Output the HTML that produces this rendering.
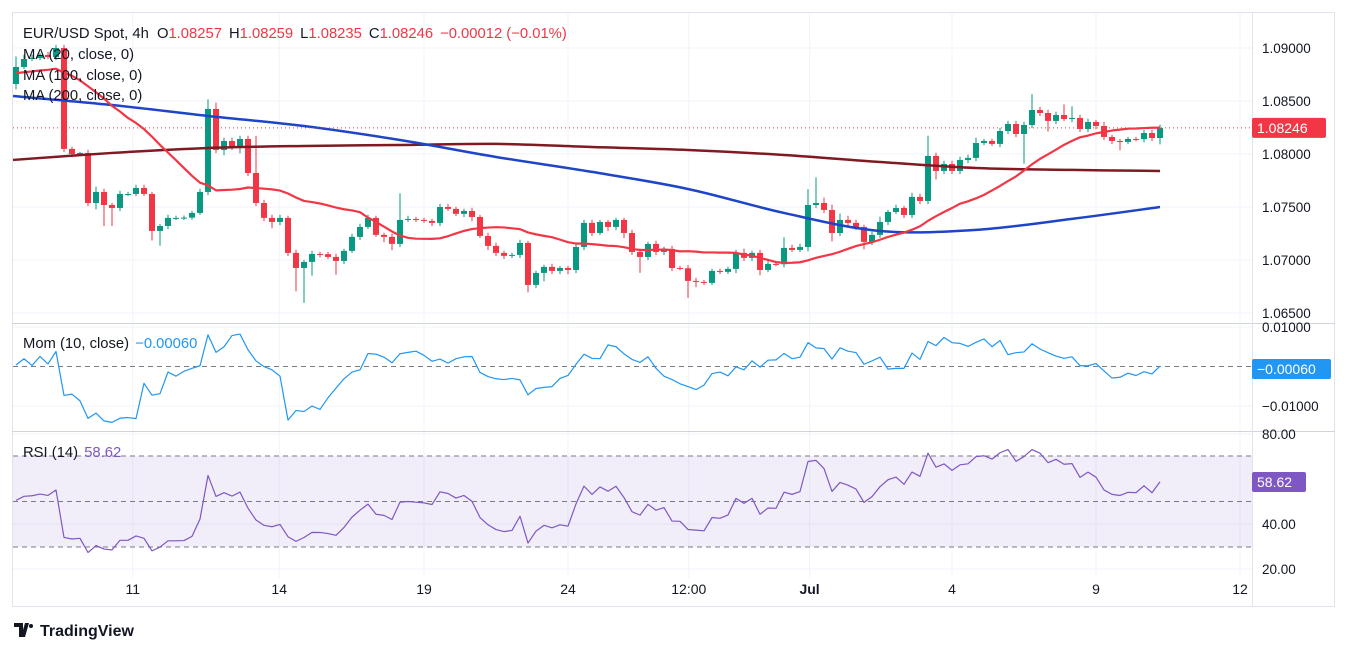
<!DOCTYPE html>
<html><head><meta charset="utf-8"><style>
body{margin:0;background:#fff;width:1347px;height:651px;overflow:hidden;font-family:"Liberation Sans",sans-serif}
svg{position:absolute;left:0;top:0}
text{font-family:"Liberation Sans",sans-serif}
</style></head><body>
<svg id="chart" width="1347" height="651">
<rect x="12.5" y="12.5" width="1322" height="594" fill="#fff" stroke="#e0e3eb"/>
<g id="grid"></g>
<rect x="13" y="456" width="1239" height="91" fill="#7e57c2" fill-opacity="0.1"/>
<line x1="13" x2="1252" y1="456" y2="456" stroke="#787b86" stroke-dasharray="5,4"/>
<line x1="13" x2="1252" y1="501.5" y2="501.5" stroke="#787b86" stroke-dasharray="5,4"/>
<line x1="13" x2="1252" y1="547" y2="547" stroke="#787b86" stroke-dasharray="5,4"/>
<line x1="13" x2="1252" y1="366.5" y2="366.5" stroke="#787b86" stroke-dasharray="5,4"/>
<line x1="12" x2="1335" y1="323.5" y2="323.5" stroke="#d1d4dc"/>
<line x1="12" x2="1335" y1="431.5" y2="431.5" stroke="#d1d4dc"/>
<line x1="1252.5" x2="1252.5" y1="13" y2="606" stroke="#e0e3eb"/>
<g id="plot"></g>
<g id="axes"></g>
<text x="23" y="38" font-size="14.8" fill="#131722">EUR/USD Spot, 4h <tspan dx="4">O</tspan><tspan fill="#f23645">1.08257</tspan><tspan dx="7">H</tspan><tspan fill="#f23645">1.08259</tspan><tspan dx="7">L</tspan><tspan fill="#f23645">1.08235</tspan><tspan dx="7">C</tspan><tspan fill="#f23645">1.08246</tspan><tspan dx="7" fill="#f23645">−0.00012 (−0.01%)</tspan></text>
<text x="23" y="59" font-size="14.8" fill="#131722">MA (20, close, 0)</text>
<text x="23" y="80" font-size="14.8" fill="#131722">MA (100, close, 0)</text>
<text x="23" y="100" font-size="14.8" fill="#131722">MA (200, close, 0)</text>
<text x="23" y="348" font-size="14.8" fill="#131722">Mom (10, close) <tspan dx="2" fill="#2196f3">−0.00060</tspan></text>
<text x="23" y="457" font-size="14.8" fill="#131722">RSI (14) <tspan dx="2" fill="#7e57c2">58.62</tspan></text>
<g>
<path d="M14 623h9v14h-4v-10h-5z M25 623h4l-4 14h-4z" fill="#131722"/>
<circle cx="31" cy="626" r="2" fill="#131722"/>
<text x="40" y="636" font-size="16" font-weight="bold" fill="#131722">TradingView</text>
</g>
</svg>
<script>
const priorCloses=[1.0880,1.0860,1.0885,1.0865,1.0878,1.0870,1.0888,1.0868,1.0885,1.0862,1.0878,1.0870,1.0888,1.0885];
const firstOpen=1.0866;
const closes=[1.08821,1.08896,1.08906,1.08934,1.08915,1.09000,1.08048,1.08000,1.08010,1.07538,
1.07642,1.07519,1.07491,1.07623,1.07623,1.07680,1.07623,1.07274,1.07321,1.07397,
1.07397,1.07400,1.07444,1.07642,1.08425,1.08038,1.08123,1.08057,1.08142,1.07821,
1.07538,1.07397,1.07359,1.07397,1.07067,1.06925,1.06982,1.07057,1.07055,1.07029,
1.06991,1.07086,1.07218,1.07312,1.07397,1.07237,1.07218,1.07152,1.07378,1.07387,
1.07378,1.07369,1.07350,1.07500,1.07482,1.07435,1.07463,1.07406,1.07227,1.07133,
1.07067,1.07039,1.07048,1.07161,1.06765,1.06878,1.06935,1.06897,1.06925,1.06906,
1.07123,1.07350,1.07255,1.07359,1.07312,1.07378,1.07255,1.07076,1.07029,1.07152,
1.07076,1.07105,1.06925,1.06922,1.06803,1.06793,1.06784,1.06897,1.06888,1.06916,
1.07067,1.07020,1.07067,1.06906,1.06963,1.06960,1.07114,1.07095,1.07123,1.07519,
1.07538,1.07472,1.07255,1.07378,1.07350,1.07312,1.07171,1.07237,1.07359,1.07453,
1.07491,1.07425,1.07595,1.07557,1.07982,1.07840,1.07906,1.07840,1.07944,1.07963,
1.08104,1.08123,1.08095,1.08217,1.08283,1.08189,1.08274,1.08415,1.08387,1.08312,
1.08368,1.08330,1.08340,1.08236,1.08302,1.08264,1.08161,1.08123,1.08114,1.08142,
1.08140,1.08198,1.08151,1.08246];
const upWickPips=[10,4,3,2,3,3,3,2,1,3, 5,3,2,3,2,3,3,2,2,3, 2,2,2,3,9,6,3,3,3,3, 35,3,3,3,2,3,2,3,2,2, 3,2,3,3,3,2,2,3,25,3, 2,2,2,3,3,2,2,3,2,3, 3,2,2,3,2,2,2,3,2,2, 3,3,3,2,2,2,2,3,3,2, 3,2,3,2,3,3,2,2,2,2, 3,4,2,3,3,2,10,3,3,15, 24,5,5,6,4,3,2,3,5,2, 3,2,4,3,19,3,3,3,3,3, 5,2,2,3,3,3,3,15,3,3, 3,10,11,3,3,2,4,2,2,2, 2,3,3,3];
const downWickPips=[5,2,2,2,2,3,3,3,2,3, 6,20,17,3,2,2,2,9,14,3, 2,2,2,2,3,3,5,2,5,3, 3,3,6,3,3,22,33,13,3,2, 13,3,2,3,2,2,5,6,3,2, 2,2,3,3,2,2,3,4,2,4, 3,3,2,3,7,3,8,3,3,4, 3,3,3,2,4,3,5,3,15,3, 3,3,3,2,16,5,2,2,2,2, 4,3,3,5,2,2,3,2,2,4, 3,3,8,3,3,3,7,3,3,3, 2,3,3,3,3,8,3,3,3,3, 3,2,2,3,3,3,28,3,3,10, 3,2,3,3,3,3,3,3,8,2, 2,3,3,6];
const maSampleIdx=[0,12,24,36,48,60,72,84,96,108,120,132,143];
const ma100Samples=[1.08547,1.08462,1.08359,1.08264,1.08132,1.07972,1.07831,1.07670,1.07444,1.07274,1.07284,1.07388,1.07500];
const ma200Samples=[1.07944,1.08010,1.08057,1.08076,1.08085,1.08095,1.08066,1.08038,1.07991,1.07925,1.07868,1.07850,1.07840];
const priceTicks=[1.09,1.085,1.08,1.075,1.07,1.065];
const momTicks=[0.01,-0.01];
const rsiTicks=[80,40,20];
const timeLabels=["11","14","19","24","12:00","Jul","4","9","12"];
const timeLabelIdx=[14.6,32.9,51,69,84.1,99.2,117,135,153];
const lastPriceLabel="1.08246", lastMomLabel="−0.00060", lastRsiLabel="58.62";

const NS="http://www.w3.org/2000/svg";
const X=i=>16+8*i;
const PY=p=>48+(1.09-p)*10600;
const MY=m=>366.5-m*3950;
const RY=r=>434+(80-r)*2.25;
function mk(tag,attrs,parent){const e=document.createElementNS(NS,tag);for(const k in attrs)e.setAttribute(k,attrs[k]);parent.appendChild(e);return e;}
const plot=document.getElementById('plot'),grid=document.getElementById('grid'),axes=document.getElementById('axes');

priceTicks.forEach(v=>{const l=mk('line',{x1:13,x2:1252,y1:PY(v),y2:PY(v),stroke:'#f0f3fa'},grid);

});
momTicks.forEach(v=>{const l=mk('line',{x1:13,x2:1252,y1:MY(v),y2:MY(v),stroke:'#f0f3fa'},grid);

});
rsiTicks.forEach(v=>{const l=mk('line',{x1:13,x2:1252,y1:RY(v),y2:RY(v),stroke:'#f0f3fa'},grid);

});
timeLabelIdx.forEach((ix,k)=>{const l=mk('line',{x1:X(ix),x2:X(ix),y1:13,y2:578,stroke:'#f0f3fa'},grid);


const t=mk('text',{x:X(ix),y:594,'font-size':14,'text-anchor':'middle',fill:'#131722','font-weight':timeLabels[k]==='Jul'?'bold':'normal'},axes);
t.textContent=timeLabels[k];

});

priceTicks.forEach(v=>{const t=mk('text',{x:1262,y:PY(v)+5,'font-size':13.5,fill:'#131722'},axes);t.textContent=v.toFixed(5);

});
momTicks.forEach(v=>{const t=mk('text',{x:1262,y:MY(v)+5,'font-size':13.5,fill:'#131722'},axes);t.textContent=(v<0?'−':'')+Math.abs(v).toFixed(5);

});
rsiTicks.forEach(v=>{const t=mk('text',{x:1262,y:RY(v)+5,'font-size':13.5,fill:'#131722'},axes);t.textContent=v.toFixed(2);

});

const all=priorCloses.concat(closes), P=priorCloses.length;
closes.forEach((c,i)=>{const o=i===0?firstOpen:closes[i-1];
const hi=Math.max(o,c)+upWickPips[i]*0.0001, lo=Math.min(o,c)-downWickPips[i]*0.0001;
const col=c>=o?'#089981':'#f23645';
const g=mk('g',{},plot);


mk('line',{x1:X(i),x2:X(i),y1:PY(hi),y2:PY(lo),stroke:col,'stroke-width':1},g);
const yt=PY(Math.max(o,c)),yb=PY(Math.min(o,c));
mk('rect',{x:X(i)-3,y:yt,width:6,height:Math.max(1,yb-yt),fill:col},g);});

function poly(pts,col,w,name){const p=mk('polyline',{points:pts.map(a=>a.join(',')).join(' '),fill:'none',stroke:col,'stroke-width':w,'stroke-linejoin':'round'},plot);

}
function smooth(pts,col,w,name){let d='M'+pts[0][0]+','+pts[0][1];
for(let i=0;i<pts.length-1;i++){const p0=pts[Math.max(0,i-1)],p1=pts[i],p2=pts[i+1],p3=pts[Math.min(pts.length-1,i+2)];
d+=' C'+(p1[0]+(p2[0]-p0[0])/6)+','+(p1[1]+(p2[1]-p0[1])/6)+' '+(p2[0]-(p3[0]-p1[0])/6)+','+(p2[1]-(p3[1]-p1[1])/6)+' '+p2[0]+','+p2[1];}
const p=mk('path',{d:d,fill:'none',stroke:col,'stroke-width':w},plot);

}
smooth(maSampleIdx.map((ix,k)=>[X(ix)-(k===0?3:0),PY(ma200Samples[k])]),'#801922',2.5,'ma200-line');
smooth(maSampleIdx.map((ix,k)=>[X(ix)-(k===0?3:0),PY(ma100Samples[k])]),'#1e44c8',2.5,'ma100-line');
const ma20=closes.map((c,i)=>{const j=i+P;const s=all.slice(Math.max(0,j-19),j+1);return s.reduce((a,b)=>a+b,0)/s.length;});
poly(ma20.map((v,i)=>[X(i),PY(v)]),'#f23645',2.2,'ma20-line');
const lp=mk('line',{x1:13,x2:1252,y1:PY(closes[closes.length-1]),y2:PY(closes[closes.length-1]),stroke:'#f23645','stroke-dasharray':'1,3'},plot);


const mom=closes.map((c,i)=>c-all[i+P-10]);
poly(mom.map((v,i)=>[X(i),MY(v)]),'#2196f3',1.2,'momentum-line');
let ag=0,al=0;for(let k=1;k<=13;k++){const d=all[k]-all[k-1];if(d>0)ag+=d;else al-=d;}ag/=13;al/=13;
const rsi=closes.map((c,i)=>{const j=i+P;const d=all[j]-all[j-1];ag=(ag*13+Math.max(d,0))/14;al=(al*13+Math.max(-d,0))/14;return al===0?100:100-100/(1+ag/al);});
poly(rsi.map((v,i)=>[X(i),RY(v)]),'#7e57c2',1.2,'rsi-line');

function box(y,w,col,txt,name){const g=mk('g',{},axes);


mk('rect',{x:1252,y:y-10,width:w,height:20,rx:2,fill:col},g);
const t=mk('text',{x:1257,y:y+5,'font-size':14,fill:'#fff'},g);t.textContent=txt;}
box(PY(closes[closes.length-1]),74,'#f23645',lastPriceLabel,'last-price-label');
box(369,79,'#2196f3',lastMomLabel,'last-mom-label');
box(482,54,'#7e57c2',lastRsiLabel,'last-rsi-label');
</script>
</body></html>
